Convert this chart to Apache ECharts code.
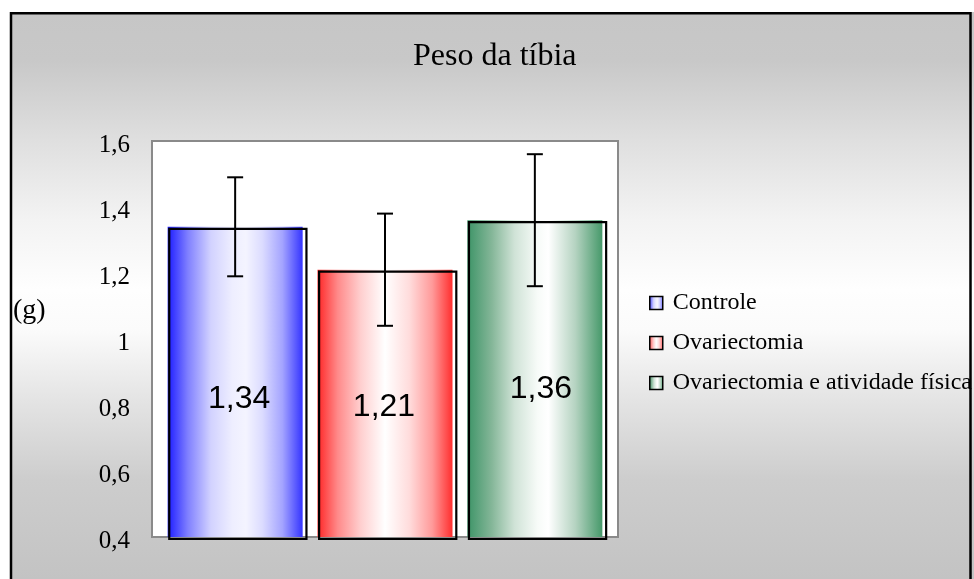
<!DOCTYPE html>
<html>
<head>
<meta charset="utf-8">
<title>Peso da tíbia</title>
<script src="https://cdn.jsdelivr.net/npm/echarts@6/dist/echarts.min.js"></script>
<style>
  html, body { margin: 0; padding: 0; background: #fff; }
  #chart { width: 974px; height: 579px; }
</style>
</head>
<body>
<div id="chart"></div>
<script>
// Tibia weight per group (g): mean and standard deviation
const groupNames = ['Controle', 'Ovariectomia', 'Ovariectomia e atividade física'];
const means = [1.34, 1.21, 1.36];
const errors = [0.15, 0.17, 0.20];
const category = ['Peso da tíbia'];
const yMin = 0.4;
const yMax = 1.6;
const yStep = 0.2;
const unitLabel = '(g)';

const SERIF = '"Liberation Serif", "Times New Roman", serif';
const SANS = '"Liberation Sans", Arial, sans-serif';
const BAR_W = 135;
const GAP_RATIO = 0.11;

const fmt = v => String(+(+v).toFixed(2)).replace('.', ',');

function hGrad(stops) {
  return {
    type: 'linear', x: 0, y: 0, x2: 1, y2: 0,
    colorStops: stops.map(([o, c]) => ({ offset: o, color: c }))
  };
}

const fills = [
  hGrad([[0, '#1c1cff'], [0.15, '#8080ff'], [0.32, '#d2d2ff'], [0.48, '#eeeeff'],
         [0.58, '#f4f4ff'], [0.7, '#dcdcff'], [0.85, '#a4a4ff'], [1, '#3434ff']]),
  hGrad([[0, '#ff2626'], [0.15, '#ff8a8a'], [0.32, '#ffcfcf'], [0.5, '#ffffff'],
         [0.68, '#ffdcdc'], [0.85, '#ff9a9a'], [1, '#ff2e2e']]),
  hGrad([[0, '#3d9467'], [0.18, '#84b698'], [0.35, '#d0e3d7'], [0.52, '#f7fbf8'],
         [0.6, '#ffffff'], [0.8, '#b5d3c1'], [1, '#46996a']])
];

// label nudges inside each bar
const labelOffsets = [[4, 17], [-1, 4], [6, 11]];

const barSeries = groupNames.map((name, i) => ({
  type: 'bar',
  name: name,
  data: [means[i]],
  barWidth: BAR_W,
  barGap: Math.round(GAP_RATIO * 100) + '%',
  itemStyle: { color: fills[i], borderWidth: 0 },
  label: {
    show: true,
    position: 'inside',
    offset: labelOffsets[i],
    formatter: p => fmt(p.value),
    fontFamily: SANS,
    fontSize: 32,
    color: '#000'
  },
  z: 2
}));

// shifted bar outline + error bars: [category, slot, mean, high, low]
const errData = means.map((m, i) => [0, i, m, m + errors[i], m - errors[i]]);

const overlaySeries = {
  type: 'custom',
  name: 'desvio',
  data: errData,
  encode: { x: 0, y: [3, 4] },
  z: 5,
  silent: true,
  renderItem: (params, api) => {
    const slot = api.value(1);
    const top = api.coord([0, api.value(2)]);
    const base = api.coord([0, yMin]);
    const hi = api.coord([0, api.value(3)]);
    const lo = api.coord([0, api.value(4)]);
    const x = hi[0] + (slot - 1) * (BAR_W * (1 + GAP_RATIO));
    const left = x - BAR_W / 2;
    const cap = 8;
    const st = { stroke: '#000', lineWidth: 2 };
    return {
      type: 'group',
      children: [
        { type: 'rect',
          shape: { x: left + 1.6, y: top[1] + 2, width: BAR_W + 2.2, height: base[1] - top[1] },
          style: { fill: 'none', stroke: '#000', lineWidth: 2.2 } },
        { type: 'line', shape: { x1: x, y1: hi[1], x2: x, y2: lo[1] }, style: st },
        { type: 'line', shape: { x1: x - cap, y1: hi[1], x2: x + cap, y2: hi[1] }, style: st },
        { type: 'line', shape: { x1: x - cap, y1: lo[1], x2: x + cap, y2: lo[1] }, style: st }
      ]
    };
  }
};

const chart = echarts.init(document.getElementById('chart'), null, { renderer: 'canvas' });

chart.setOption({
  animation: false,
  backgroundColor: {
    type: 'linear', x: 0, y: 12, x2: 0, y2: 579, global: true,
    colorStops: [
      { offset: 0, color: '#c6c6c6' },
      { offset: 0.085, color: '#c8c8c8' },
      { offset: 0.226, color: '#dfdfdf' },
      { offset: 0.367, color: '#f3f3f3' },
      { offset: 0.49, color: '#fefefe' },
      { offset: 0.56, color: '#fbfbfb' },
      { offset: 0.684, color: '#e4e4e4' },
      { offset: 0.825, color: '#cdcdcd' },
      { offset: 1, color: '#c3c3c3' }
    ]
  },
  title: {
    text: 'Peso da tíbia',
    left: 408,
    top: 36,
    textStyle: { fontFamily: SERIF, fontSize: 32, fontWeight: 'normal', color: '#000' }
  },
  legend: {
    data: groupNames,
    orient: 'vertical',
    left: 644,
    top: 286,
    itemWidth: 13,
    itemHeight: 13,
    itemGap: 16,
    icon: 'rect',
    selectedMode: false,
    itemStyle: { borderColor: '#000', borderWidth: 1.5 },
    textStyle: { fontFamily: SERIF, fontSize: 24, color: '#000', lineHeight: 24, padding: [0, 0, 0, 5] }
  },
  grid: {
    left: 152, top: 141, right: 356, bottom: 42,
    show: true,
    backgroundColor: '#ffffff',
    borderColor: '#8a8a8a',
    borderWidth: 2
  },
  xAxis: {
    type: 'category',
    data: category,
    axisLine: { show: false },
    axisTick: { show: false },
    axisLabel: { show: false }
  },
  yAxis: {
    type: 'value',
    min: yMin,
    max: yMax,
    interval: yStep,
    axisLine: { show: false },
    axisTick: { show: false },
    splitLine: { show: false },
    axisLabel: {
      color: '#000', margin: 22,
      formatter: v => '{t|' + String(+(+v).toFixed(1)).replace('.', ',') + '}',
      rich: {
        t: { fontFamily: SERIF, fontSize: 25, color: '#000', padding: [8, 0, 0, 0] }
      }
    }
  },
  series: barSeries.concat([overlaySeries]),
  graphic: [
    // white margin around the framed chart area
    { type: 'rect', shape: { x: 0, y: 0, width: 974, height: 12 }, style: { fill: '#fff' }, silent: true },
    { type: 'rect', shape: { x: 0, y: 0, width: 10, height: 579 }, style: { fill: '#fff' }, silent: true },
    // frame
    { type: 'rect', shape: { x: 11, y: 13.2, width: 959.5, height: 700 },
      style: { fill: 'none', stroke: '#000', lineWidth: 2.5 }, silent: true },
    // unit of the value axis
    { type: 'text', left: 13, top: 297,
      style: { text: unitLabel, font: '28px ' + SERIF, fill: '#000' }, silent: true }
  ]
});
</script>
</body>
</html>
